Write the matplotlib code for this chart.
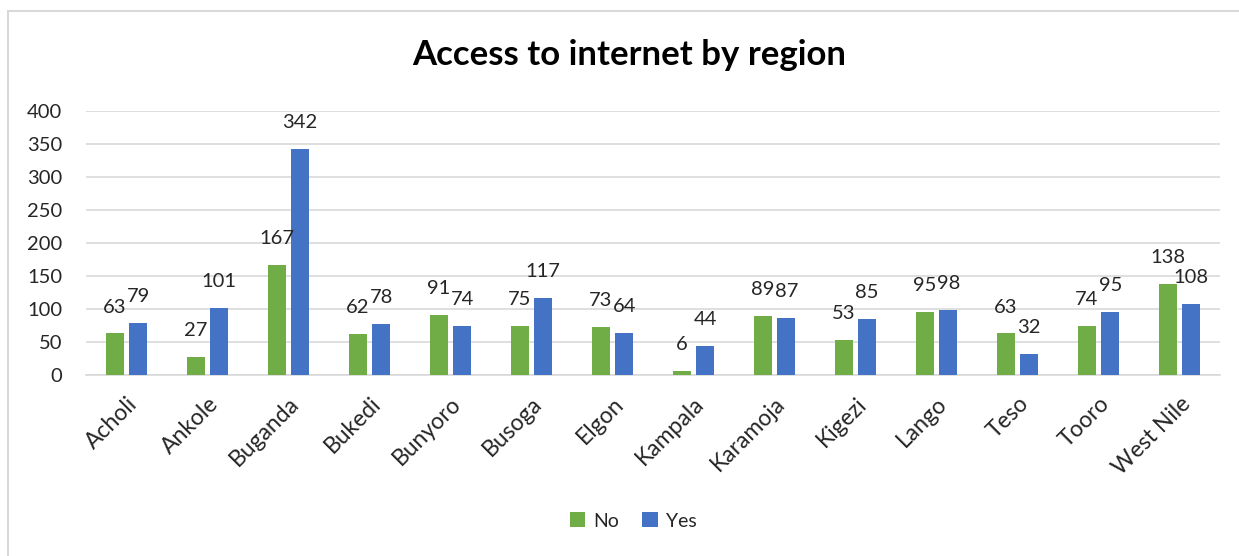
import matplotlib
matplotlib.use("Agg")
import matplotlib.pyplot as plt
from matplotlib.patches import Rectangle
import numpy as np

regions = ["Acholi", "Ankole", "Buganda", "Bukedi", "Bunyoro", "Busoga", "Elgon",
           "Kampala", "Karamoja", "Kigezi", "Lango", "Teso", "Tooro", "West Nile"]
no_values = [63, 27, 167, 62, 91, 75, 73, 6, 89, 53, 95, 63, 74, 138]
yes_values = [79, 101, 342, 78, 74, 117, 64, 44, 87, 85, 98, 32, 95, 108]
y_ticks = [0, 50, 100, 150, 200, 250, 300, 350, 400]

GREEN = "#70AD47"
BLUE = "#4472C4"
TEXT = "#262626"

plt.rcParams["font.family"] = ["Lato", "DejaVu Sans"]

fig = plt.figure(figsize=(12.39, 5.56), dpi=100)
ax = fig.add_axes([86 / 1239, 1 - 375 / 556, (1220 - 86) / 1239, (375 - 111) / 556])

x = np.arange(len(regions))
width = 0.22
offset = 0.145
bars_no = ax.bar(x - offset, no_values, width, color=GREEN, label="No", zorder=3)
bars_yes = ax.bar(x + offset, yes_values, width, color=BLUE, label="Yes", zorder=3)

for bars, vals in ((bars_no, no_values), (bars_yes, yes_values)):
    for b, v in zip(bars, vals):
        ax.annotate(str(v), (b.get_x() + b.get_width() / 2, v),
                    xytext=(0, 19), textcoords="offset points",
                    ha="center", va="center", fontsize=14.5, color=TEXT, zorder=4)

ax.set_xlim(-0.5, len(regions) - 0.5)
ax.set_ylim(0, 400)
ax.set_yticks(y_ticks)
ax.set_yticklabels([str(t) for t in y_ticks], fontsize=14.5, color=TEXT)
ax.set_xticks(x)
ax.set_xticklabels(regions, rotation=45, ha="right", rotation_mode="anchor",
                   fontsize=16.5, color=TEXT)
ax.tick_params(axis="both", length=0)
ax.tick_params(axis="x", pad=13)
ax.tick_params(axis="y", pad=17)

ax.grid(axis="y", color="#D9D9D9", linewidth=1.2, zorder=0)
for side in ("top", "right", "left"):
    ax.spines[side].set_visible(False)
ax.spines["bottom"].set_color("#D9D9D9")
ax.spines["bottom"].set_linewidth(1.2)

fig.text(629 / 1239, 1 - 55 / 556, "Access to internet by region",
         ha="center", va="center", fontsize=25, fontweight="bold", color="black")

fig.legend(handles=[bars_no, bars_yes], labels=["No", "Yes"], loc="center",
           bbox_to_anchor=(633 / 1239, 1 - 521 / 556), ncol=2, frameon=False,
           fontsize=14, handlelength=0.8, handleheight=0.8, handletextpad=0.4,
           columnspacing=1.2, labelcolor=TEXT)

# outer chart frame
fig.patches.append(Rectangle((8 / 1239, -0.05), 1.2, 1 - 11 / 556 + 0.05,
                             transform=fig.transFigure, fill=False,
                             edgecolor="#D9D9D9", linewidth=1.5))

fig.savefig("out.png", dpi=100)
